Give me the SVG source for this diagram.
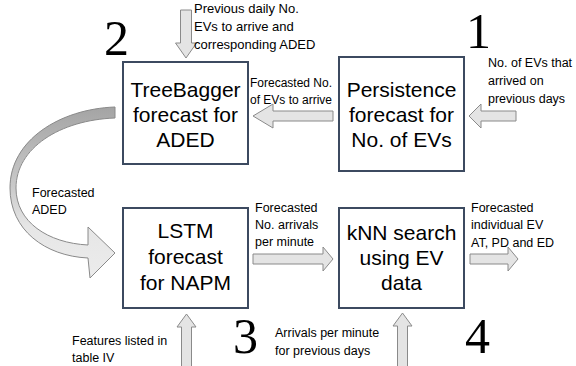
<svg xmlns="http://www.w3.org/2000/svg" width="576" height="366" viewBox="0 0 576 366">
<style>
.box{fill:#fff;stroke:#3c4a60;stroke-width:2}
.bt{font-family:"Liberation Sans",Arial,sans-serif;font-size:21px;fill:#000;text-anchor:middle}
.lb{font-family:"Liberation Sans",Arial,sans-serif;font-size:12.5px;fill:#000}
.num{font-family:"Liberation Serif","Times New Roman",serif;font-size:50px;fill:#000}
.ba{fill:#e4e4e4;stroke:#8a8a8a;stroke-width:1}
</style>
<defs>
<linearGradient id="cg" x1="0" y1="107" x2="0" y2="278" gradientUnits="userSpaceOnUse">
<stop offset="0" stop-color="#a4a4a4"/>
<stop offset="0.45" stop-color="#c8c8c8"/>
<stop offset="0.7" stop-color="#e6e6e6"/>
<stop offset="1" stop-color="#ececec"/>
</linearGradient>
</defs>
<g id="connectors">
<path class="ba" d="M180.5,10 H191.5 V43 H196.5 L186,58 L175.5,43 H180.5 Z"/>
<path class="ba" d="M333,111 V121 H273 V128 L253,116 L273,104 V111 Z"/>
<path class="ba" d="M516,111 V121 H481 V128 L469,116 L481,104 V111 Z"/>
<path class="ba" d="M253,254 H323 V247 L333,259 L323,271 V264 H253 Z"/>
<path class="ba" d="M470,254 H508 V247 L518,259 L508,271 V264 H470 Z"/>
<path class="ba" d="M181.5,366 V327 H177 L186.5,314 L196,327 H191.5 V366"/>
<path class="ba" d="M397.5,366 V326 H393 L402.5,313 L412,326 H407.5 V366"/>
<path d="M115,107 C60,109 10,140 10,188 C10,230 45,256 88,258 L90,278 L115,253 L88,227 L88,245 C48,243 16,222 16,188 C16,148 60,120 115,118 Z" fill="url(#cg)" stroke="#8a8a8a" stroke-width="1"/>
</g>
<g id="treebagger">
<rect class="box" x="123" y="62" width="125" height="102"/>
<text class="bt" x="185.5" y="97">TreeBagger</text>
<text class="bt" x="185.5" y="122">forecast for</text>
<text class="bt" x="185.5" y="147">ADED</text>
</g>
<g id="persistence">
<rect class="box" x="339" y="57" width="125" height="114"/>
<text class="bt" x="401.5" y="97">Persistence</text>
<text class="bt" x="401.5" y="122">forecast for</text>
<text class="bt" x="401.5" y="147">No. of EVs</text>
</g>
<g id="lstm">
<rect class="box" x="123" y="208" width="125" height="100"/>
<text class="bt" x="185.5" y="238">LSTM</text>
<text class="bt" x="185.5" y="264">forecast</text>
<text class="bt" x="185.5" y="290">for NAPM</text>
</g>
<g id="knn">
<rect class="box" x="339" y="208" width="125" height="100"/>
<text class="bt" x="401.5" y="240">kNN search</text>
<text class="bt" x="401.5" y="265">using EV</text>
<text class="bt" x="401.5" y="290">data</text>
</g>
<g id="labels">
<text class="lb" x="194" y="13" style="font-size:13px">Previous daily No.</text>
<text class="lb" x="194" y="31" style="font-size:13px">EVs to arrive and</text>
<text class="lb" x="194" y="49" style="font-size:13px">corresponding ADED</text>
<text class="lb" x="250" y="87" style="font-size:12px">Forecasted No.</text>
<text class="lb" x="250" y="104" style="font-size:12px">of EVs to arrive</text>
<text class="lb" x="488" y="67">No. of EVs that</text>
<text class="lb" x="488" y="85">arrived on</text>
<text class="lb" x="488" y="103">previous days</text>
<text class="lb" x="32" y="197">Forecasted</text>
<text class="lb" x="32" y="214">ADED</text>
<text class="lb" x="255" y="212">Forecasted</text>
<text class="lb" x="255" y="229">No. arrivals</text>
<text class="lb" x="255" y="246">per minute</text>
<text class="lb" x="471" y="212">Forecasted</text>
<text class="lb" x="471" y="229">individual EV</text>
<text class="lb" x="471" y="247">AT, PD and ED</text>
<text class="lb" x="72" y="345">Features listed in</text>
<text class="lb" x="72" y="362">table IV</text>
<text class="lb" x="275" y="337">Arrivals per minute</text>
<text class="lb" x="275" y="355">for previous days</text>
<text class="num" x="104" y="55">2</text>
<text class="num" x="466" y="48">1</text>
<text class="num" x="233" y="353">3</text>
<text class="num" x="465" y="353">4</text>
</g>
</svg>
